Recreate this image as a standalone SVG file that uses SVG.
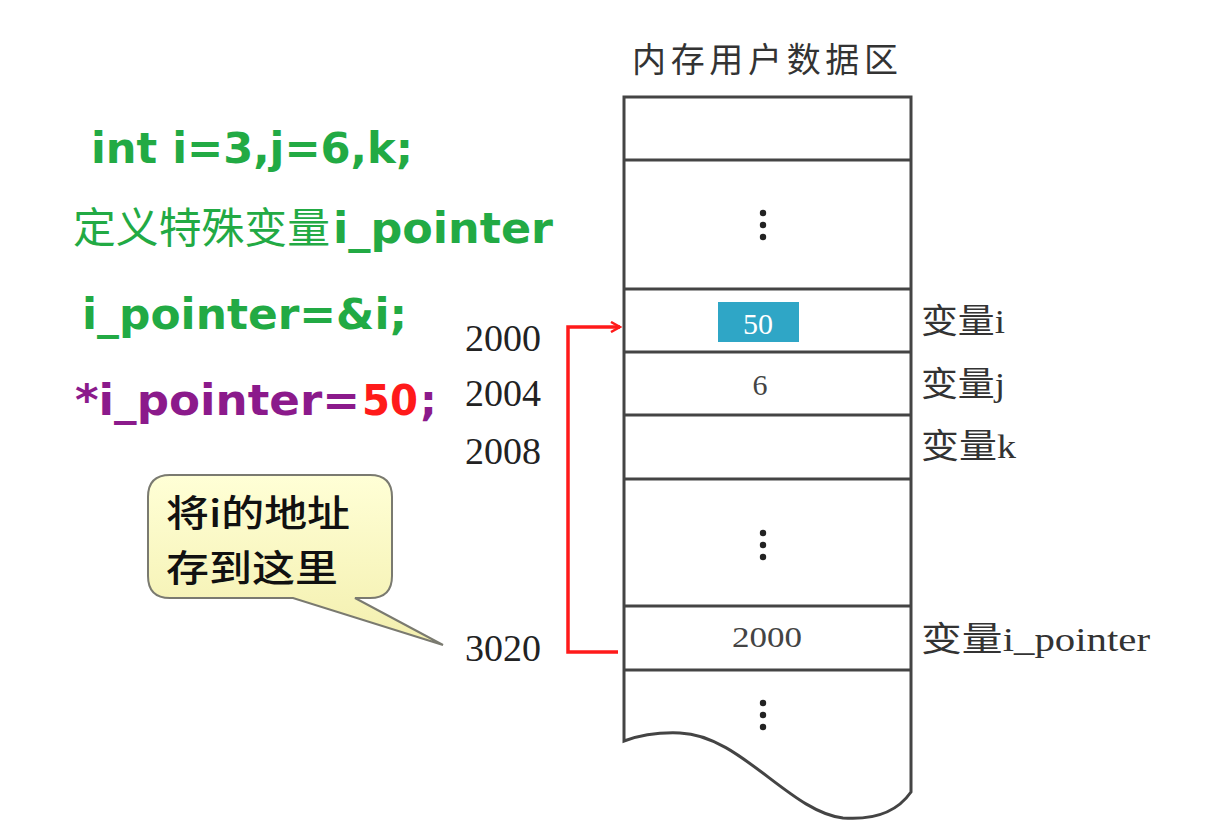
<svg xmlns="http://www.w3.org/2000/svg" width="1220" height="834" viewBox="0 0 1220 834">
<defs>
<style>
.code{font-family:"DejaVu Sans","Noto Sans CJK SC",sans-serif;font-weight:bold;font-size:42px}
.cjk{font-family:"Noto Sans CJK SC",sans-serif}
.addr{font-family:"Liberation Serif","Noto Sans CJK SC",serif;font-size:38px;fill:#222}
.var{font-family:"Liberation Serif","Noto Sans CJK SC",serif;font-size:34px;fill:#333}
.cell{font-family:"Liberation Serif",serif;font-size:30px;fill:#444;text-anchor:middle}
.line{stroke:#444;stroke-width:3;fill:none}
.dot{fill:#222}
</style>
<linearGradient id="callg" x1="0" y1="0" x2="0" y2="1">
<stop offset="0" stop-color="#FFFFD6"/>
<stop offset="1" stop-color="#F3EFAE"/>
</linearGradient>
<marker id="arr" viewBox="0 0 12 12" refX="10" refY="6" markerWidth="12" markerHeight="12" markerUnits="userSpaceOnUse" orient="auto">
<path d="M1,1 L10,6 L1,11" fill="none" stroke="#FF1A1A" stroke-width="2.5"/>
</marker>
</defs>
<rect width="1220" height="834" fill="#fff"/>

<g id="title">
<text x="632" y="72" class="cjk" font-size="34" fill="#333" textLength="266" lengthAdjust="spacing">内存用户数据区</text>
</g>

<g id="code">
<text x="91" y="163" class="code" fill="#22AA44" textLength="322" lengthAdjust="spacingAndGlyphs">int i=3,j=6,k;</text>
<text x="73" y="243" class="cjk" font-size="42" fill="#22AA44" textLength="257" lengthAdjust="spacingAndGlyphs">定义特殊变量</text>
<text x="333" y="243" class="code" fill="#22AA44" textLength="220" lengthAdjust="spacingAndGlyphs">i_pointer</text>
<text x="82" y="329" class="code" fill="#22AA44" textLength="325" lengthAdjust="spacingAndGlyphs">i_pointer=&amp;i;</text>
<text x="75" y="415" class="code" fill="#8B1A8B" textLength="285" lengthAdjust="spacingAndGlyphs">*i_pointer=</text>
<text x="362" y="415" class="code" fill="#FF1A1A" textLength="56" lengthAdjust="spacingAndGlyphs">50</text>
<text x="420" y="415" class="code" fill="#8B1A8B">;</text>
</g>

<g id="memory">
<path class="line" d="M624,97 H911 V792 C895,815 870,820 843,818 C790,812 740,735 680,733 C655,732 635,737 624,741 Z"/>
<path class="line" d="M624,160 H911 M624,289 H911 M624,352 H911 M624,415 H911 M624,479 H911 M624,606 H911 M624,670 H911"/>
<circle class="dot" cx="763" cy="213" r="3.2"/><circle class="dot" cx="763" cy="225" r="3.2"/><circle class="dot" cx="763" cy="237" r="3.2"/>
<circle class="dot" cx="763" cy="533" r="3.2"/><circle class="dot" cx="763" cy="545" r="3.2"/><circle class="dot" cx="763" cy="557" r="3.2"/>
<circle class="dot" cx="763" cy="703" r="3.2"/><circle class="dot" cx="763" cy="715" r="3.2"/><circle class="dot" cx="763" cy="727" r="3.2"/>
</g>

<g id="cell-i">
<rect x="718" y="302" width="81" height="40" fill="#2FA6C6"/>
<text x="758" y="334" class="cell" style="fill:#fff">50</text>
<text x="921" y="333" class="var" textLength="84" lengthAdjust="spacingAndGlyphs">变量i</text>
<text x="465" y="351" class="addr">2000</text>
</g>
<g id="cell-j">
<text x="760" y="395" class="cell">6</text>
<text x="921" y="396" class="var" textLength="84" lengthAdjust="spacingAndGlyphs">变量j</text>
<text x="465" y="406" class="addr">2004</text>
</g>
<g id="cell-k">
<text x="921" y="458" class="var" textLength="95" lengthAdjust="spacingAndGlyphs">变量k</text>
<text x="465" y="464" class="addr">2008</text>
</g>
<g id="cell-pointer">
<text x="767" y="647" class="cell" textLength="70" lengthAdjust="spacingAndGlyphs">2000</text>
<text x="921" y="651" class="var" textLength="229" lengthAdjust="spacingAndGlyphs">变量i_pointer</text>
<text x="465" y="661" class="addr">3020</text>
</g>

<g id="callout">
<path d="M170,475 H370 Q392,475 392,497 V576 Q392,598 370,598 H355 L443,645 L293,598 H170 Q148,598 148,576 V497 Q148,475 170,475 Z" fill="url(#callg)" stroke="#7a7a70" stroke-width="2"/>
<text x="166" y="527" class="cjk" font-size="37" font-weight="500" fill="#111" textLength="184" lengthAdjust="spacingAndGlyphs">将i的地址</text>
<text x="166" y="582" class="cjk" font-size="37" font-weight="500" fill="#111" textLength="172" lengthAdjust="spacingAndGlyphs">存到这里</text>
</g>

<g id="connectors">
<polyline points="618,652 568,652 568,327 620,327" fill="none" stroke="#FF1A1A" stroke-width="3.5" marker-end="url(#arr)"/>
</g>
</svg>
